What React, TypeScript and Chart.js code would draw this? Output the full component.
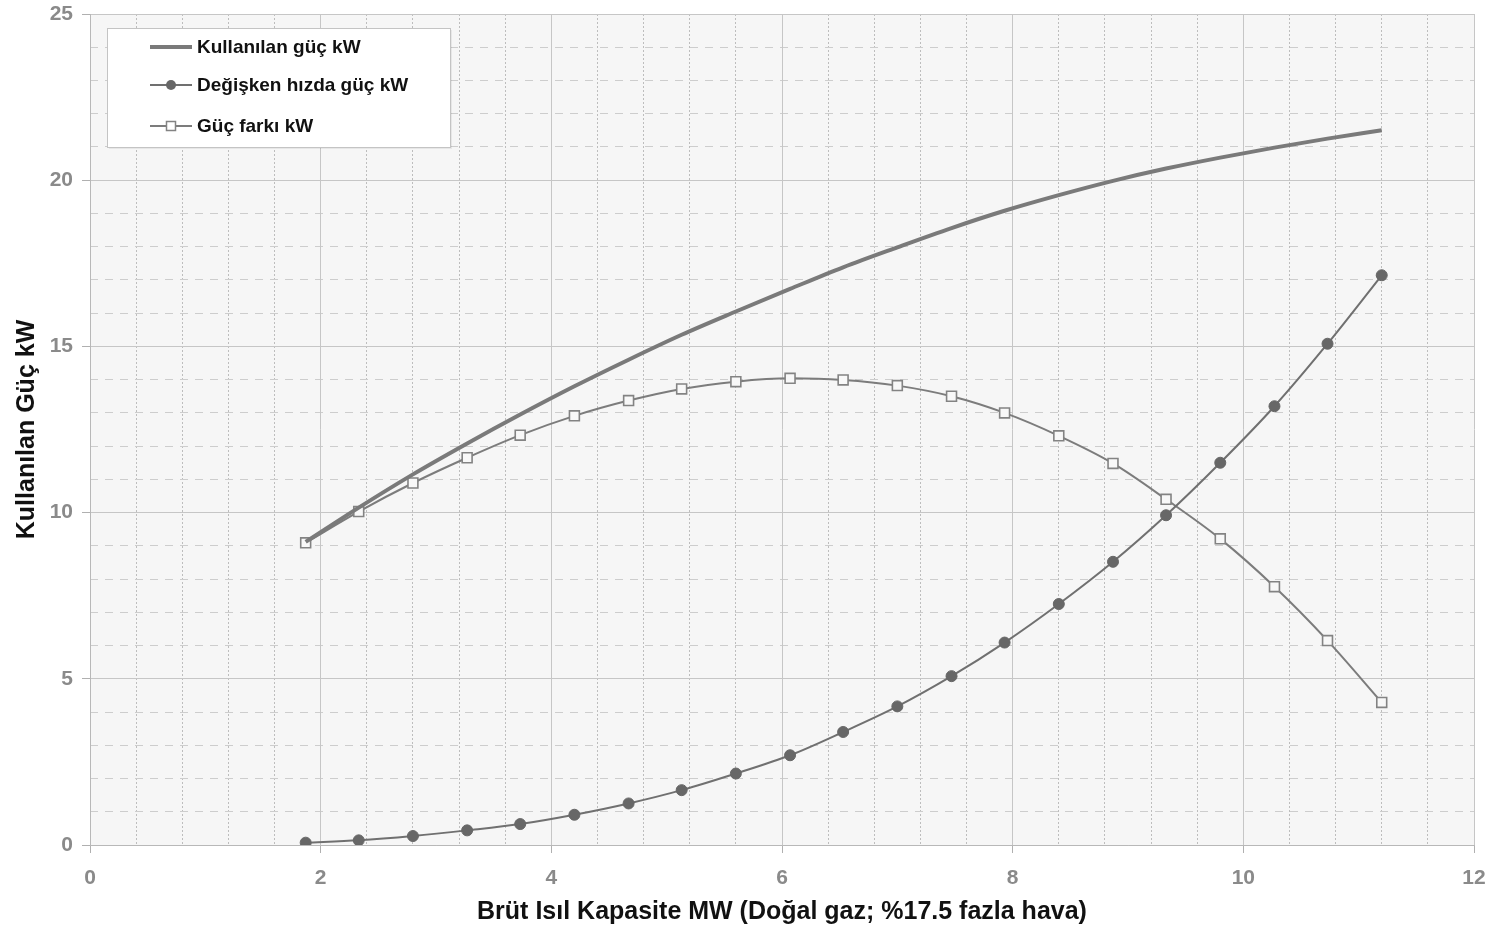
import React, { useEffect, useRef } from 'react';
import { Chart, registerables } from 'chart.js';

Chart.register(...registerables);

// X: Brüt ısıl kapasite (MW)
const xValues = [1.87, 2.33, 2.8, 3.27, 3.73, 4.2, 4.67, 5.13, 5.6, 6.07, 6.53, 7.0, 7.47, 7.93, 8.4, 8.87, 9.33, 9.8, 10.27, 10.73, 11.2];
// Kullanılan güç kW
const kullanilan = [9.12, 10.15, 11.15, 12.08, 12.95, 13.8, 14.6, 15.35, 16.05, 16.73, 17.38, 17.98, 18.56, 19.08, 19.55, 19.98, 20.35, 20.68, 20.98, 21.25, 21.5];
// Değişken hızda güç kW
const degisken = [0.07, 0.14, 0.27, 0.44, 0.63, 0.91, 1.25, 1.65, 2.15, 2.7, 3.4, 4.17, 5.08, 6.09, 7.25, 8.52, 9.92, 11.5, 13.2, 15.08, 17.14];
// Güç farkı kW
const gucFarki = [9.09, 10.03, 10.89, 11.65, 12.33, 12.91, 13.37, 13.72, 13.94, 14.04, 13.99, 13.82, 13.5, 13.0, 12.31, 11.48, 10.4, 9.21, 7.77, 6.15, 4.29];

const seriesLabels = ['Kullanılan güç kW', 'Değişken hızda güç kW', 'Güç farkı kW'];
const xTitle = 'Brüt Isıl Kapasite MW (Doğal gaz; %17.5 fazla hava)';
const yTitle = 'Kullanılan Güç kW';

const FONT = "'Liberation Sans', Arial, Helvetica, sans-serif";

const bgPlugin = {
  id: 'plotBg',
  beforeDraw(chart: any) {
    const { ctx, chartArea: a, width, height } = chart;
    ctx.save();
    ctx.fillStyle = '#ffffff';
    ctx.fillRect(0, 0, width, height);
    ctx.fillStyle = '#f6f6f6';
    ctx.fillRect(a.left, a.top, a.right - a.left, a.bottom - a.top);
    ctx.restore();
  },
};

const legendPlugin = {
  id: 'boxLegend',
  afterDraw(chart: any) {
    const { ctx, chartArea: a } = chart;
    const bx = a.left + 17;
    const by = a.top + 14;
    const bw = 343;
    const bh = 119;
    ctx.save();
    ctx.fillStyle = 'rgba(0,0,0,0.06)';
    ctx.fillRect(bx + 2, by + 2, bw, bh);
    ctx.fillStyle = '#ffffff';
    ctx.fillRect(bx, by, bw, bh);
    ctx.strokeStyle = '#c4c4c4';
    ctx.lineWidth = 1;
    ctx.strokeRect(bx + 0.5, by + 0.5, bw, bh);
    const rows = [19, 57, 98];
    chart.data.datasets.forEach((ds: any, i: number) => {
      const y = by + rows[i];
      const x0 = bx + 43;
      const x1 = bx + 85;
      const xm = (x0 + x1) / 2;
      ctx.strokeStyle = ds.borderColor;
      ctx.lineWidth = i === 0 ? 4 : 2;
      ctx.beginPath();
      ctx.moveTo(x0, y);
      ctx.lineTo(x1, y);
      ctx.stroke();
      if (i === 1) {
        ctx.fillStyle = ds.pointBackgroundColor;
        ctx.beginPath();
        ctx.arc(xm, y, 5, 0, Math.PI * 2);
        ctx.fill();
      }
      if (i === 2) {
        ctx.fillStyle = '#ffffff';
        ctx.strokeStyle = ds.pointBorderColor;
        ctx.lineWidth = 1.5;
        ctx.fillRect(xm - 4.5, y - 4.5, 9, 9);
        ctx.strokeRect(xm - 4.5, y - 4.5, 9, 9);
      }
      ctx.fillStyle = '#111111';
      ctx.font = `bold 19px ${FONT}`;
      ctx.textBaseline = 'middle';
      ctx.textAlign = 'left';
      ctx.fillText(ds.label, bx + 90, y + 1);
    });
    ctx.restore();
  },
};

const noPadX = (s: any, h: number) => {
  s.height = h;
  s.paddingLeft = 0;
  s.paddingRight = 0;
  s.paddingTop = 0;
  s.paddingBottom = 0;
};
const noPadY = (s: any, w: number) => {
  s.width = w;
  s.paddingLeft = 0;
  s.paddingRight = 0;
  s.paddingTop = 0;
  s.paddingBottom = 0;
};

export default function App() {
  const ref = useRef<HTMLCanvasElement | null>(null);

  useEffect(() => {
    if (!ref.current) return;
    const tickFont = { family: FONT, size: 21, weight: 'bold' as const };
    const titleFont = { family: FONT, size: 25, weight: 'bold' as const };
    const chart = new Chart(ref.current, {
      type: 'line',
      data: {
        datasets: [
          {
            label: seriesLabels[0],
            data: xValues.map((x, i) => ({ x, y: kullanilan[i] })),
            borderColor: '#7a7a7a',
            borderWidth: 4,
            pointRadius: 0,
            cubicInterpolationMode: 'monotone',
            xAxisID: 'x',
            yAxisID: 'y',
          },
          {
            label: seriesLabels[1],
            data: xValues.map((x, i) => ({ x, y: degisken[i] })),
            borderColor: '#707070',
            borderWidth: 2,
            pointStyle: 'circle',
            pointRadius: 5.5,
            pointBackgroundColor: '#676767',
            pointBorderColor: '#676767',
            pointBorderWidth: 1,
            cubicInterpolationMode: 'monotone',
            xAxisID: 'x',
            yAxisID: 'y',
          },
          {
            label: seriesLabels[2],
            data: xValues.map((x, i) => ({ x, y: gucFarki[i] })),
            borderColor: '#7c7c7c',
            borderWidth: 2,
            pointStyle: 'rect',
            pointRadius: 7,
            pointBackgroundColor: '#f8f8f8',
            pointBorderColor: '#838383',
            pointBorderWidth: 1.6,
            cubicInterpolationMode: 'monotone',
            xAxisID: 'x',
            yAxisID: 'y',
          },
        ],
      },
      options: {
        animation: false,
        responsive: false,
        devicePixelRatio: 1,
        layout: { padding: { top: 14, right: 15, left: 0, bottom: 0 } },
        plugins: {
          legend: { display: false },
          tooltip: { enabled: false },
        },
        scales: {
          xMinor: {
            type: 'linear',
            position: 'bottom',
            min: 0,
            max: 12,
            z: -1,
            ticks: { display: false, stepSize: 0.4 },
            grid: { color: '#bdbdbd', lineWidth: 1, drawTicks: false },
            border: { display: false, dash: [2, 2] },
            afterFit: (s: any) => noPadX(s, 0),
          },
          yMinor: {
            type: 'linear',
            position: 'left',
            min: 0,
            max: 25,
            z: -1,
            ticks: { display: false, stepSize: 1 },
            grid: { color: '#cdcdcd', lineWidth: 1, drawTicks: false },
            border: { display: false, dash: [8, 7] },
            afterFit: (s: any) => noPadY(s, 0),
          },
          x: {
            type: 'linear',
            position: 'bottom',
            min: 0,
            max: 12,
            z: 0,
            ticks: { stepSize: 2, color: '#8a8a8a', font: tickFont, padding: 13, maxRotation: 0 },
            grid: { color: '#c6c6c6', lineWidth: 1, tickLength: 8, tickColor: '#b0b0b0' },
            border: { display: true, color: '#b8b8b8', width: 1 },
            title: { display: true, text: xTitle, color: '#111111', font: titleFont, padding: { top: 0, bottom: 2 } },
            afterFit: (s: any) => noPadX(s, 84),
          },
          y: {
            type: 'linear',
            position: 'left',
            min: 0,
            max: 25,
            z: 0,
            ticks: { stepSize: 5, color: '#8a8a8a', font: tickFont, padding: 9 },
            grid: { color: '#c6c6c6', lineWidth: 1, tickLength: 8, tickColor: '#b0b0b0' },
            border: { display: true, color: '#b8b8b8', width: 1 },
            title: { display: true, text: yTitle, color: '#111111', font: titleFont, padding: { top: 12, bottom: 0 } },
            afterFit: (s: any) => noPadY(s, 90),
          },
        },
      } as any,
      plugins: [bgPlugin, legendPlugin],
    });
    return () => chart.destroy();
  }, []);

  return (
    <canvas
      ref={ref}
      width={1489}
      height={929}
      style={{ position: 'absolute', left: 0, top: 0, width: 1489, height: 929 }}
    />
  );
}
